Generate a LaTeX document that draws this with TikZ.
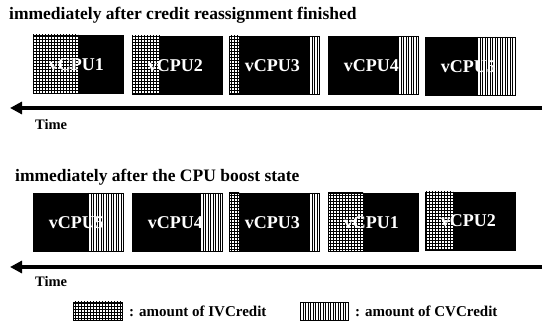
\documentclass[tikz,border=0pt]{standalone}
\usepackage{fontspec}
\setmainfont{Liberation Serif}
\usetikzlibrary{arrows.meta}
\tikzset{
  cpubox/.style={fill=black, draw=black, line width=0.8pt, minimum width=90pt, minimum height=58pt, inner sep=0pt, anchor=north west},
  cpulabel/.style={text=white, font=\bfseries\fontsize{18}{20}\selectfont, inner sep=0pt},
  titletext/.style={font=\bfseries\fontsize{17.5}{20}\selectfont, anchor=base west, inner sep=0pt},
  timelabel/.style={font=\bfseries\fontsize{14.5}{16}\selectfont, anchor=base west, inner sep=0pt},
  legendtext/.style={font=\bfseries\fontsize{15}{17}\selectfont, anchor=base west, inner sep=0pt},
  timeline/.style={line width=4pt, -{Triangle[length=12pt,width=12pt]}},
  outline/.style={draw=black, line width=0.8pt},
}
\newcommand\gridfill[4]{%
  \begin{scope}
    \clip (#1,#2) rectangle (#3,#4);
    \fill[white] (#1,#2) rectangle (#3,#4);
    \draw[line width=0.75pt, step=3pt] (#1-3,#2-3) grid (#3+3,#4+3);
  \end{scope}}
\newcommand\stripefill[4]{%
  \begin{scope}
    \clip (#1,#2) rectangle (#3,#4);
    \fill[white] (#1,#2) rectangle (#3,#4);
    \foreach \k in {0,...,40} \draw[line width=1pt] ({#1+0.8+2.5*\k},#2) -- ({#1+0.8+2.5*\k},#4);
  \end{scope}}
\begin{document}
\begin{tikzpicture}[x=1pt,y=-1pt]
\useasboundingbox (0,0) rectangle (550,328);
% row 1
\node[titletext] (t1) at (9,20) {immediately after credit reassignment finished};
\node[cpubox] (b1) at (33,35) {};
\node[cpubox] (b2) at (132,36) {};
\node[cpubox] (b3) at (229,36) {};
\node[cpubox] (b4) at (328,36) {};
\node[cpubox] (b5) at (425,37) {};
\gridfill{33}{35}{78}{93}
\gridfill{132}{36}{160}{94}
\gridfill{229}{36}{239}{94}
\stripefill{309}{36}{319}{94}
\stripefill{398}{36}{418}{94}
\stripefill{477}{37}{515}{95}
\foreach \b in {b1,b2,b3,b4,b5} \draw[outline] (\b.north west) rectangle (\b.south east);
\node[cpulabel] (l1) at ([xshift=-2pt]b1.center) {vCPU1};
\node[cpulabel] (l2) at ([xshift=-2pt]b2.center) {vCPU2};
\node[cpulabel] (l3) at ([xshift=-2pt]b3.center) {vCPU3};
\node[cpulabel] (l4) at ([xshift=-2pt]b4.center) {vCPU4};
\node[cpulabel] (l5) at ([xshift=-2pt]b5.center) {vCPU5};
\coordinate (a1s) at (542,108);
\coordinate (a1e) at (10,108);
\draw[timeline] (a1s) -- (a1e);
\node[timelabel] (time1) at (35,130) {Time};
% row 2
\node[titletext] (t2) at (15,182) {immediately after the CPU boost state};
\node[cpubox] (c5) at (33,193) {};
\node[cpubox] (c4) at (132,193) {};
\node[cpubox] (c3) at (229,193) {};
\node[cpubox] (c1) at (328,193) {};
\node[cpubox] (c2) at (425,192) {};
\stripefill{88}{193}{123}{251}
\stripefill{200}{193}{222}{251}
\gridfill{229}{193}{239}{251}
\stripefill{309}{193}{319}{251}
\gridfill{328}{193}{363}{251}
\gridfill{425}{192}{453}{250}
\foreach \b in {c5,c4,c3,c1,c2} \draw[outline] (\b.north west) rectangle (\b.south east);
\node[cpulabel] (m5) at ([xshift=-2pt]c5.center) {vCPU5};
\node[cpulabel] (m4) at ([xshift=-2pt]c4.center) {vCPU4};
\node[cpulabel] (m3) at ([xshift=-2pt]c3.center) {vCPU3};
\node[cpulabel] (m1) at ([xshift=-2pt]c1.center) {vCPU1};
\node[cpulabel] (m2) at ([xshift=-2pt,yshift=1pt]c2.center) {vCPU2};
\coordinate (a2s) at (542,267);
\coordinate (a2e) at (10,267);
\draw[timeline] (a2s) -- (a2e);
\node[timelabel] (time2) at (35,287) {Time};
% legend
\gridfill{73}{302}{122}{320}
\draw[outline] (73,302) rectangle (122,320);
\node[legendtext] (lg1) at (129,317) {: amount of IVCredit};
\stripefill{300}{302}{348}{320}
\draw[outline] (300,302) rectangle (348,320);
\node[legendtext] (lg2) at (355,317) {: amount of CVCredit};
\end{tikzpicture}
\end{document}
